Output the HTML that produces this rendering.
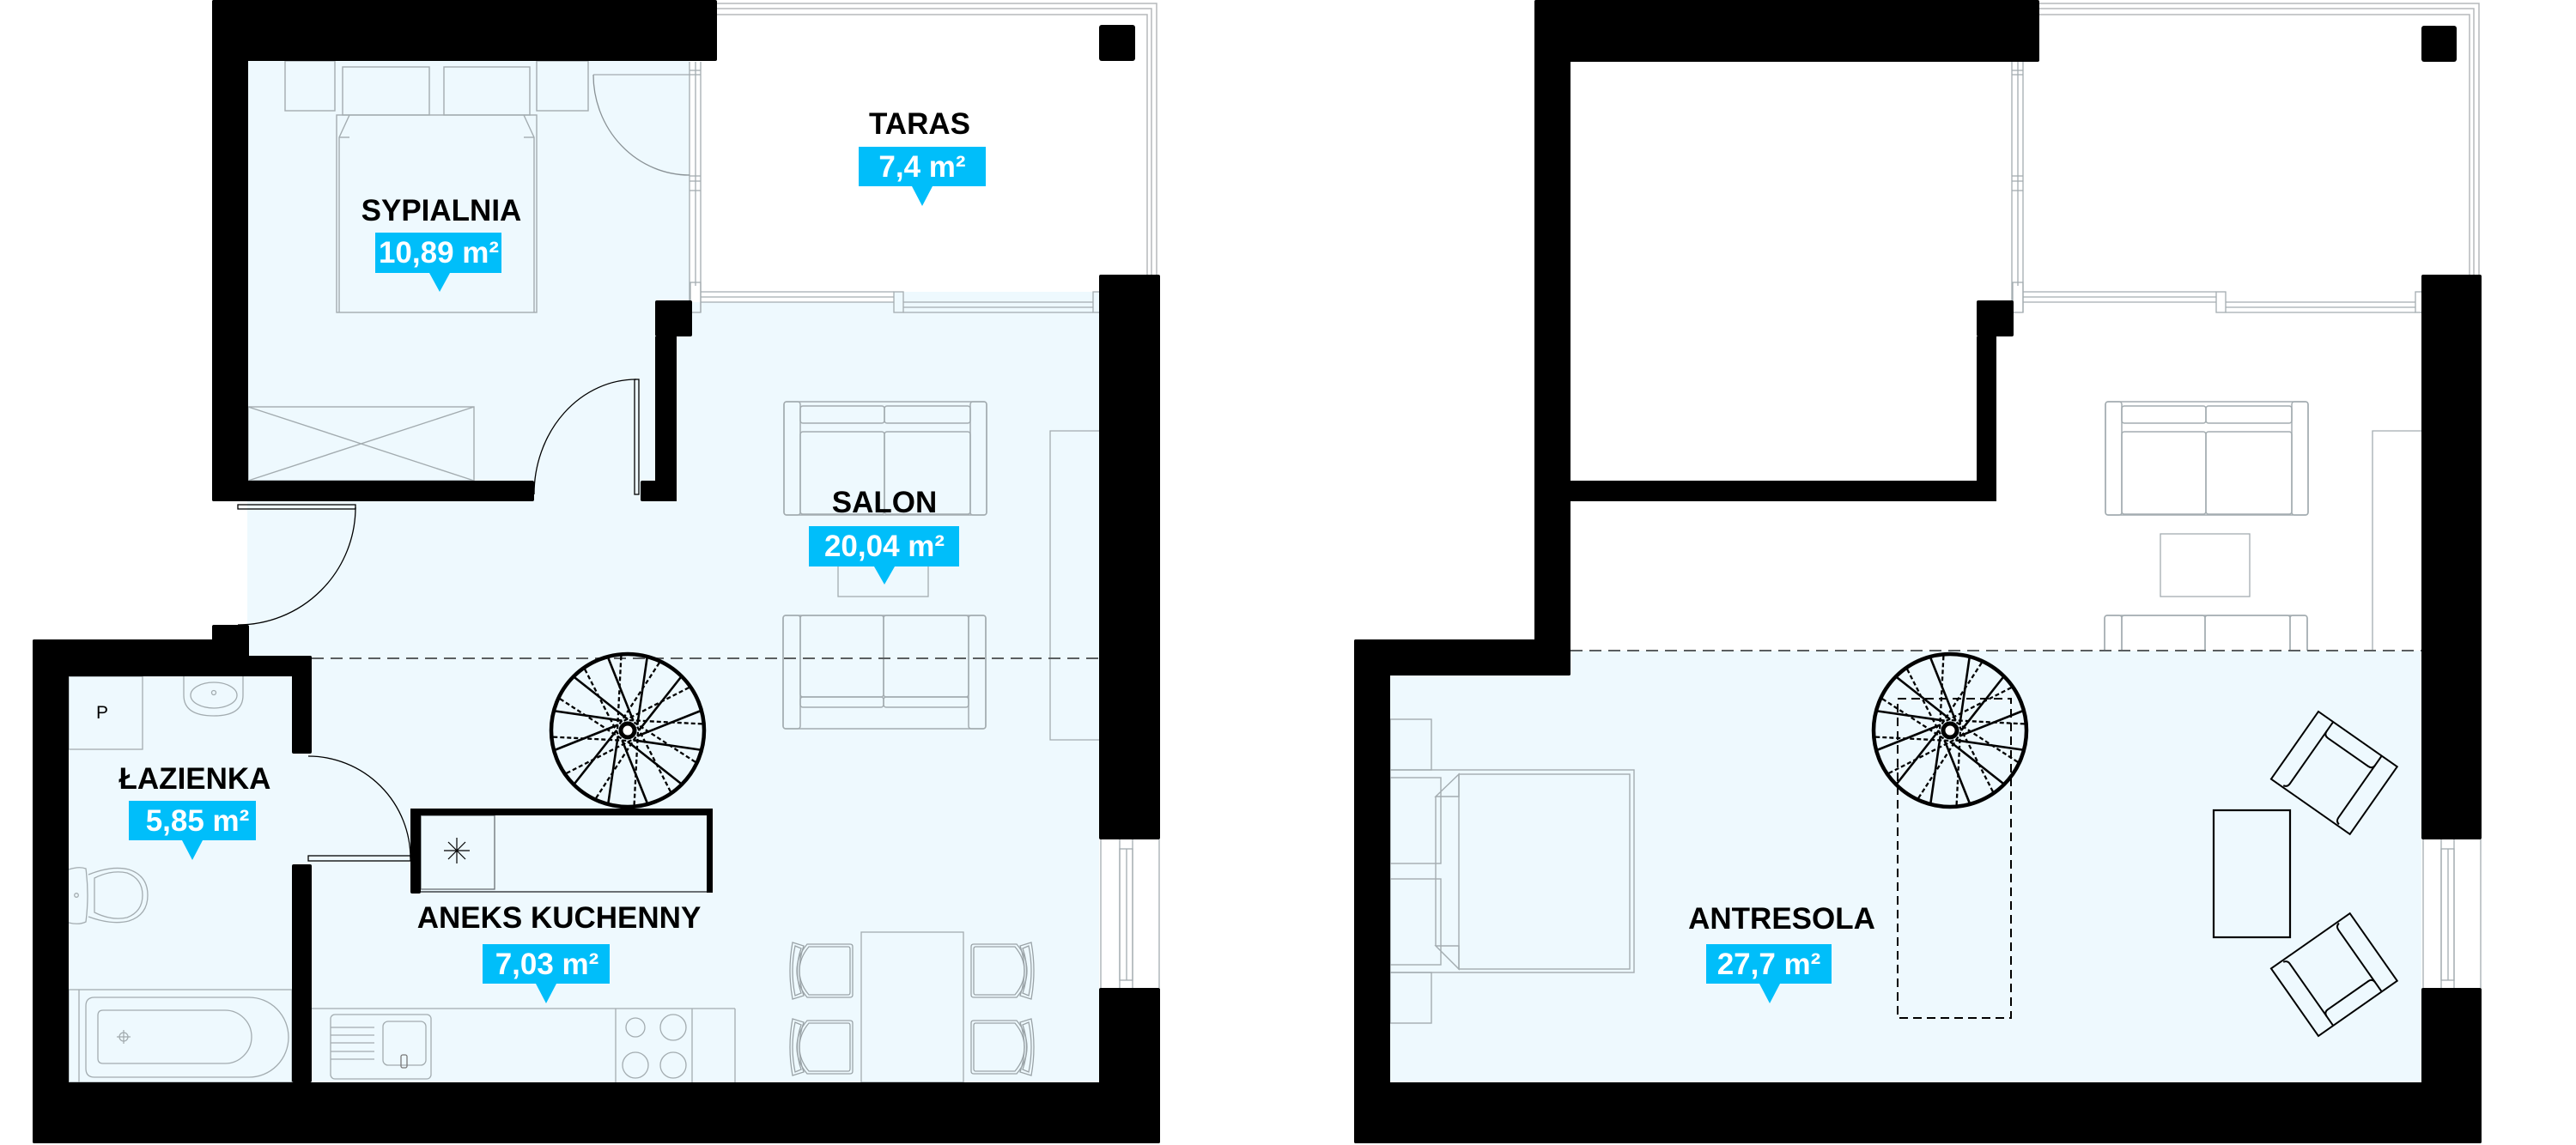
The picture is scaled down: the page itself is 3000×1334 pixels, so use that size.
<!DOCTYPE html>
<html>
<head>
<meta charset="utf-8">
<style>
html,body{margin:0;padding:0;background:#fff;overflow:hidden;}
svg{display:block;}
.lbl{font-family:"Liberation Sans",Arial,sans-serif;font-weight:bold;font-size:35px;fill:#000;}
.bt{font-family:"Liberation Sans",Arial,sans-serif;font-weight:bold;font-size:35px;fill:#fff;}
</style>
</head>
<body>
<svg width="3000" height="1334" viewBox="0 0 3000 1334" xmlns="http://www.w3.org/2000/svg">
<defs>
  <g id="stair">
    <circle cx="0" cy="0" r="89" fill="none" stroke="#000" stroke-width="4.5"/>
    <g stroke="#000" stroke-width="2.6" fill="none">
      <line x1="-22.5" y1="-84" x2="6.5" y2="-11.3"/>
      <line x1="22.5" y1="-84" x2="11.3" y2="-6.5"/>
      <line x1="61.5" y1="-61.5" x2="13" y2="0"/>
      <line x1="84" y1="-22.5" x2="11.3" y2="6.5"/>
      <line x1="84" y1="22.5" x2="6.5" y2="11.3"/>
      <line x1="61.5" y1="61.5" x2="0" y2="13"/>
      <line x1="22.5" y1="84" x2="-6.5" y2="11.3"/>
      <line x1="-22.5" y1="84" x2="-11.3" y2="6.5"/>
      <line x1="-61.5" y1="61.5" x2="-13" y2="0"/>
      <line x1="-84" y1="22.5" x2="-11.3" y2="-6.5"/>
      <line x1="-84" y1="-22.5" x2="-6.5" y2="-11.3"/>
      <line x1="-61.5" y1="-61.5" x2="0" y2="-13"/>
    </g>
    <g stroke="#000" stroke-width="2.3" fill="none" stroke-dasharray="5 3">
      <line x1="-7.6" y1="-86.7" x2="-11.95" y2="-1.05"/>
      <line x1="36.8" y1="-78.8" x2="-9.83" y2="-6.88"/>
      <line x1="71.3" y1="-49.9" x2="-5.07" y2="-10.88"/>
      <line x1="86.7" y1="-7.6" x2="1.05" y2="-11.95"/>
      <line x1="78.8" y1="36.8" x2="6.88" y2="-9.83"/>
      <line x1="49.9" y1="71.3" x2="10.88" y2="-5.07"/>
      <line x1="7.6" y1="86.7" x2="11.95" y2="1.05"/>
      <line x1="-36.8" y1="78.8" x2="9.83" y2="6.88"/>
      <line x1="-71.3" y1="49.9" x2="5.07" y2="10.88"/>
      <line x1="-86.7" y1="7.6" x2="-1.05" y2="11.95"/>
      <line x1="-78.8" y1="-36.8" x2="-6.88" y2="9.83"/>
      <line x1="-49.9" y1="-71.3" x2="-10.88" y2="5.07"/>
    </g>
    <circle cx="0" cy="0" r="8" fill="#fff" stroke="#000" stroke-width="5"/>
  </g>
  <g id="sofaTop" fill="none" stroke="#a3acb0" stroke-width="1.5">
    <rect x="0" y="0" width="236" height="132" rx="3"/>
    <rect x="0" y="0" width="19" height="132" rx="3"/>
    <rect x="217" y="0" width="19" height="132" rx="3"/>
    <rect x="19" y="5" width="98" height="20" rx="3"/>
    <rect x="117" y="5" width="100" height="20" rx="3"/>
    <rect x="19" y="35" width="98" height="96" rx="3"/>
    <rect x="117" y="35" width="100" height="96" rx="3"/>
  </g>
  <g id="sofaBot" fill="none" stroke="#a3acb0" stroke-width="1.5">
    <rect x="0" y="0" width="236" height="132" rx="3"/>
    <rect x="0" y="0" width="20" height="132" rx="3"/>
    <rect x="216" y="0" width="20" height="132" rx="3"/>
    <rect x="20" y="0" width="97" height="95" rx="3"/>
    <rect x="117" y="0" width="99" height="95" rx="3"/>
    <rect x="20" y="95" width="97" height="12" rx="3"/>
    <rect x="117" y="95" width="99" height="12" rx="3"/>
  </g>
  <g id="chair" fill="none" stroke="#9aa3a7" stroke-width="1.3">
    <path d="M20,2 H70 Q73,2 73,5 V61 Q73,64 70,64 H20 Q8,50 8,33 Q8,16 20,2 Z"/>
    <path d="M22,5 H68 Q70,5 70,8 V58 Q70,61 68,61 H22 Q11,48 11,33 Q11,18 22,5 Z"/>
    <path d="M3,0 L16,4 Q6,33 16,62 L3,66 Q-3,33 3,0 Z"/>
    <path d="M6,4 L13,7 Q4,33 13,59 L6,62 Q0,33 6,4 Z"/>
  </g>
  <g id="armchair" fill="none" stroke="#000" stroke-width="2">
    <rect x="0" y="0" width="112" height="96"/>
    <path d="M21,0 V88 Q21,93 16,94"/>
    <path d="M90,0 V88 Q90,93 95,94"/>
    <path d="M21,13 Q21,19 27,19 H84 Q90,19 90,13"/>
  </g>
  <clipPath id="clipR"><rect x="1830" y="0" width="1000" height="758"/></clipPath>
</defs>

<!-- ================= LEFT PLAN ================= -->
<!-- fills -->
<g fill="#eef9fe">
  <rect x="289" y="71" width="514" height="489"/>
  <rect x="788" y="352" width="492" height="909"/>
  <rect x="1041" y="340" width="239" height="20"/>
  <rect x="288" y="584" width="992" height="677"/>
  <rect x="289" y="555" width="500" height="35"/>
  <rect x="80" y="787" width="283" height="474"/>
</g>

<!-- terrace railing -->
<g fill="none" stroke="#b5b9bb" stroke-width="1.5">
  <path d="M835,4 H1347 V320"/>
  <path d="M835,10 H1341 V320"/>
  <path d="M835,17 H1336 V320"/>
</g>
<!-- bedroom/terrace window lines -->
<g fill="none" stroke="#a3acb0" stroke-width="1.3">
  <line x1="803" y1="72" x2="803" y2="364"/>
  <line x1="810" y1="72" x2="810" y2="333"/>
  <line x1="816" y1="72" x2="816" y2="364"/>
  <line x1="803" y1="82" x2="816" y2="82"/>
  <line x1="803" y1="87" x2="816" y2="87"/>
  <line x1="803" y1="205" x2="816" y2="205"/>
  <line x1="803" y1="211" x2="816" y2="211"/>
  <line x1="803" y1="222" x2="816" y2="222"/>
  <rect x="804" y="329" width="12" height="35"/>
  <line x1="816" y1="340" x2="1041" y2="340"/>
  <line x1="816" y1="346" x2="1041" y2="346"/>
  <line x1="816" y1="352" x2="1041" y2="352"/>
  <rect x="1041" y="340" width="11" height="24"/>
  <line x1="1052" y1="352" x2="1273" y2="352"/>
  <line x1="1052" y1="358" x2="1273" y2="358"/>
  <line x1="1052" y1="364" x2="1273" y2="364"/>
  <rect x="1273" y="340" width="8" height="24"/>
</g>
<!-- right wall window -->
<g fill="none" stroke="#a3acb0" stroke-width="1.3">
  <line x1="1282" y1="978" x2="1282" y2="1151"/>
  <line x1="1350" y1="978" x2="1350" y2="1151"/>
  <line x1="1304" y1="978" x2="1304" y2="1151"/>
  <line x1="1319" y1="978" x2="1319" y2="1151"/>
  <rect x="1304" y="989" width="15" height="153"/>
  <line x1="1312" y1="989" x2="1312" y2="1142"/>
</g>

<!-- bedroom furniture -->
<g fill="none" stroke="#a3acb0" stroke-width="1.4">
  <rect x="332" y="71" width="58" height="58"/>
  <rect x="625" y="71" width="60" height="58"/>
  <rect x="399" y="78" width="101" height="56"/>
  <rect x="517" y="78" width="100" height="56"/>
  <rect x="392" y="134" width="233" height="230"/>
  <path d="M395,364 V160 L407,134 M622,364 V160 L610,134"/>
  <line x1="395" y1="160" x2="407" y2="160"/>
  <line x1="610" y1="160" x2="622" y2="160"/>
  <rect x="289" y="474" width="263" height="86"/>
  <line x1="289" y1="474" x2="552" y2="560"/>
  <line x1="552" y1="474" x2="289" y2="560"/>
</g>
<!-- doors -->
<g fill="none" stroke="#000" stroke-width="1.3">
  <line x1="691" y1="87" x2="803" y2="87" stroke="#a3acb0"/>
  <path d="M691,87 A112,117 0 0 0 803,204" stroke="#8a9296"/>
  <rect x="739" y="442" width="5" height="134"/>
  <path d="M741,442 A119,134 0 0 0 622,576"/>
  <rect x="277" y="588" width="137" height="5"/>
  <path d="M414,591 A137,137 0 0 1 277,728"/>
  <rect x="359" y="997" width="119" height="6"/>
  <path d="M359,881 A119,119 0 0 1 478,1000"/>
</g>

<!-- bathroom fixtures -->
<g fill="none" stroke="#a3acb0" stroke-width="1.3">
  <rect x="80" y="788" width="86" height="85"/>
  <path d="M214,788 V810 Q214,834 249,834 Q283,834 283,810 V788"/>
  <ellipse cx="249" cy="810" rx="27" ry="15"/>
  <circle cx="249" cy="807" r="2.5"/>
  <path d="M80,1013 Q92,1009 100,1012 Q104,1043 100,1074 Q92,1078 80,1075"/>
  <circle cx="89" cy="1043" r="2.3"/>
  <path d="M103,1019 Q130,1008 150,1013 Q172,1020 172,1043 Q172,1066 150,1073 Q130,1078 103,1068"/>
  <path d="M110,1023 Q130,1013 148,1017 Q166,1024 166,1043 Q166,1062 148,1069 Q130,1073 110,1063 Z"/>
  <rect x="80" y="1153" width="260" height="108"/>
  <line x1="92" y1="1153" x2="92" y2="1261"/>
  <path d="M110,1162 H290 A46,46.5 0 0 1 290,1255 H110 Q100,1255 100,1245 V1172 Q100,1162 110,1162 Z"/>
  <path d="M120,1177 H262 A31,31 0 0 1 262,1239 H120 Q114,1239 114,1233 V1183 Q114,1177 120,1177 Z"/>
  <circle cx="144" cy="1208" r="5"/>
  <line x1="136" y1="1208" x2="152" y2="1208"/>
  <line x1="144" y1="1200" x2="144" y2="1216"/>
</g>
<text x="112" y="837" font-family="Liberation Sans, Arial, sans-serif" font-size="21" fill="#000">P</text>

<!-- kitchen -->
<g fill="none" stroke="#a3acb0" stroke-width="1.3">
  <line x1="362" y1="1175" x2="856" y2="1175"/>
  <line x1="856" y1="1175" x2="856" y2="1261"/>
  <rect x="385" y="1182" width="117" height="75" rx="5"/>
  <line x1="385" y1="1197" x2="436" y2="1197"/>
  <line x1="385" y1="1206" x2="436" y2="1206"/>
  <line x1="385" y1="1215" x2="436" y2="1215"/>
  <line x1="385" y1="1225" x2="436" y2="1225"/>
  <line x1="385" y1="1234" x2="436" y2="1234"/>
  <rect x="446" y="1190" width="50" height="51" rx="6"/>
  <rect x="467" y="1229" width="7" height="15" rx="2" stroke="#777"/>
  <line x1="717" y1="1175" x2="717" y2="1261"/>
  <line x1="806" y1="1175" x2="806" y2="1261"/>
  <circle cx="740" cy="1197" r="11"/>
  <circle cx="784" cy="1197" r="15"/>
  <circle cx="740" cy="1241" r="15"/>
  <circle cx="784" cy="1241" r="15"/>
  <rect x="490" y="950" width="86" height="86" stroke="#6a7074"/>
</g>
<line x1="490" y1="1039" x2="830" y2="1039" stroke="#6a7074" stroke-width="2"/>
<g stroke="#000" stroke-width="1.2">
  <line x1="517" y1="991" x2="547" y2="991"/>
  <line x1="532" y1="976" x2="532" y2="1006"/>
  <line x1="522" y1="981" x2="542" y2="1001"/>
  <line x1="542" y1="981" x2="522" y2="1001"/>
</g>

<!-- dining -->
<rect x="1003" y="1086" width="119" height="175" fill="none" stroke="#a3acb0" stroke-width="1.3"/>
<use href="#chair" transform="translate(920,1098)"/>
<use href="#chair" transform="translate(920,1187)"/>
<use href="#chair" transform="translate(1204,1098) scale(-1,1)"/>
<use href="#chair" transform="translate(1204,1187) scale(-1,1)"/>

<!-- salon furniture -->
<use href="#sofaTop" transform="translate(913,468)"/>
<use href="#sofaBot" transform="translate(912,717)"/>
<rect x="976" y="622" width="105" height="73" fill="none" stroke="#a3acb0" stroke-width="1.3"/>
<path d="M1280,502 H1223 V862 H1280" fill="none" stroke="#a3acb0" stroke-width="1.3"/>

<!-- dashed mezzanine edge -->
<line x1="363" y1="767" x2="1280" y2="767" stroke="#5a5e60" stroke-width="2" stroke-dasharray="14 8"/>

<!-- stair -->
<use href="#stair" transform="translate(731,851)"/>

<!-- walls left -->
<g fill="#000">
  <rect x="247" y="0" width="588" height="71" rx="2"/>
  <rect x="247" y="0" width="42" height="584" rx="2"/>
  <rect x="247" y="560" width="375" height="24" rx="2"/>
  <rect x="746" y="560" width="42" height="24" rx="2"/>
  <rect x="763" y="392" width="25" height="192"/>
  <rect x="763" y="350" width="43" height="42" rx="2"/>
  <rect x="1280" y="320" width="71" height="658" rx="2"/>
  <rect x="1280" y="1151" width="71" height="181" rx="2"/>
  <rect x="38" y="1261" width="1313" height="71" rx="2"/>
  <rect x="38" y="745" width="42" height="587" rx="2"/>
  <rect x="38" y="745" width="252" height="43" rx="2"/>
  <rect x="247" y="728" width="43" height="60" rx="2"/>
  <rect x="285" y="764" width="78" height="24" rx="2"/>
  <rect x="340" y="764" width="23" height="114" rx="2"/>
  <rect x="340" y="1007" width="23" height="254" rx="2"/>
  <rect x="1280" y="29" width="42" height="42" rx="3"/>
  <rect x="478" y="942" width="352" height="8"/>
  <rect x="478" y="942" width="12" height="99" rx="2"/>
  <rect x="823" y="942" width="7" height="98"/>
</g>

<!-- labels left -->
<text class="lbl" x="1071" y="156" text-anchor="middle">TARAS</text>
<rect x="1000" y="171" width="148" height="46" fill="#00befa"/>
<polygon points="1062,217 1086,217 1074,240" fill="#00befa"/>
<text class="bt" x="1074" y="206" text-anchor="middle">7,4 m²</text>

<text class="lbl" x="514" y="257" text-anchor="middle">SYPIALNIA</text>
<rect x="437" y="271" width="147" height="47" fill="#00befa"/>
<polygon points="500,318 524,318 512,340" fill="#00befa"/>
<text class="bt" x="511" y="306" text-anchor="middle">10,89 m²</text>

<text class="lbl" x="1030" y="597" text-anchor="middle">SALON</text>
<rect x="942" y="613" width="175" height="47" fill="#00befa"/>
<polygon points="1018,660 1042,660 1030,681" fill="#00befa"/>
<text class="bt" x="1030" y="648" text-anchor="middle">20,04 m²</text>

<text class="lbl" x="227" y="919" text-anchor="middle">ŁAZIENKA</text>
<rect x="150" y="933" width="148" height="46" fill="#00befa"/>
<polygon points="212,979 236,979 224,1002" fill="#00befa"/>
<text class="bt" x="230" y="968" text-anchor="middle">5,85 m²</text>

<text class="lbl" x="651" y="1081" text-anchor="middle">ANEKS KUCHENNY</text>
<rect x="562" y="1100" width="148" height="46" fill="#00befa"/>
<polygon points="624,1146 648,1146 636,1169" fill="#00befa"/>
<text class="bt" x="637" y="1135" text-anchor="middle">7,03 m²</text>

<!-- ================= RIGHT PLAN ================= -->
<g fill="#eef9fe">
  <rect x="1619" y="787" width="1201" height="474"/>
  <rect x="1829" y="758" width="991" height="30"/>
</g>

<!-- terrace railing -->
<g fill="none" stroke="#b5b9bb" stroke-width="1.5">
  <path d="M2375,4 H2887 V320"/>
  <path d="M2375,10 H2881 V320"/>
  <path d="M2375,17 H2876 V320"/>
</g>
<g fill="none" stroke="#a3acb0" stroke-width="1.3">
  <line x1="2343" y1="72" x2="2343" y2="364"/>
  <line x1="2350" y1="72" x2="2350" y2="333"/>
  <line x1="2356" y1="72" x2="2356" y2="364"/>
  <line x1="2343" y1="82" x2="2356" y2="82"/>
  <line x1="2343" y1="87" x2="2356" y2="87"/>
  <line x1="2343" y1="205" x2="2356" y2="205"/>
  <line x1="2343" y1="211" x2="2356" y2="211"/>
  <line x1="2343" y1="222" x2="2356" y2="222"/>
  <rect x="2344" y="329" width="12" height="35"/>
  <line x1="2356" y1="340" x2="2581" y2="340"/>
  <line x1="2356" y1="346" x2="2581" y2="346"/>
  <line x1="2356" y1="352" x2="2581" y2="352"/>
  <rect x="2581" y="340" width="11" height="24"/>
  <line x1="2592" y1="352" x2="2813" y2="352"/>
  <line x1="2592" y1="358" x2="2813" y2="358"/>
  <line x1="2592" y1="364" x2="2813" y2="364"/>
  <rect x="2813" y="340" width="8" height="24"/>
</g>
<g fill="none" stroke="#a3acb0" stroke-width="1.3">
  <line x1="2822" y1="978" x2="2822" y2="1151"/>
  <line x1="2889" y1="978" x2="2889" y2="1151"/>
  <line x1="2843" y1="978" x2="2843" y2="1151"/>
  <line x1="2858" y1="978" x2="2858" y2="1151"/>
  <rect x="2843" y="989" width="15" height="153"/>
  <line x1="2851" y1="989" x2="2851" y2="1142"/>
</g>

<!-- right salon furniture (upper level view) -->
<use href="#sofaTop" transform="translate(2452,468)"/>
<g clip-path="url(#clipR)">
  <use href="#sofaBot" transform="translate(2451,717)"/>
  <path d="M2820,502 H2763 V862" fill="none" stroke="#a3acb0" stroke-width="1.3"/>
</g>
<rect x="2516" y="622" width="104" height="73" fill="none" stroke="#a3acb0" stroke-width="1.3"/>

<!-- bed -->
<g fill="none" stroke="#a3acb0" stroke-width="1.4">
  <rect x="1619" y="838" width="48" height="59"/>
  <rect x="1619" y="1133" width="48" height="59"/>
  <rect x="1619" y="897" width="284" height="236"/>
  <rect x="1699" y="902" width="199" height="227"/>
  <rect x="1619" y="906" width="59" height="100"/>
  <rect x="1619" y="1024" width="59" height="100"/>
  <line x1="1672" y1="928" x2="1672" y2="1102"/>
  <path d="M1672,928 L1699,902 V928 Z"/>
  <path d="M1672,1102 L1699,1129 V1102 Z"/>
</g>

<!-- dashed stair well rect -->
<rect x="2210" y="814" width="132" height="372" fill="none" stroke="#000" stroke-width="2" stroke-dasharray="10 6"/>

<!-- table & armchairs -->
<rect x="2578" y="944" width="89" height="148" fill="none" stroke="#000" stroke-width="2.2"/>
<use href="#armchair" transform="translate(2700,829) rotate(35)"/>
<g transform="translate(0,2036) scale(1,-1)">
  <use href="#armchair" transform="translate(2700,829) rotate(35)"/>
</g>

<!-- dashed line -->
<line x1="1829" y1="758" x2="2820" y2="758" stroke="#5a5e60" stroke-width="2" stroke-dasharray="14 8"/>

<!-- stair -->
<use href="#stair" transform="translate(2271,851)"/>

<!-- walls right -->
<g fill="#000">
  <rect x="1787" y="0" width="588" height="72" rx="2"/>
  <rect x="1787" y="0" width="42" height="787" rx="2"/>
  <rect x="1787" y="560" width="538" height="24" rx="2"/>
  <rect x="2302" y="392" width="23" height="192"/>
  <rect x="2302" y="350" width="43" height="42" rx="2"/>
  <rect x="2820" y="320" width="70" height="658" rx="2"/>
  <rect x="2820" y="1151" width="70" height="181" rx="2"/>
  <rect x="1577" y="1261" width="1313" height="71" rx="2"/>
  <rect x="1577" y="745" width="42" height="587" rx="2"/>
  <rect x="1577" y="745" width="252" height="42" rx="2"/>
  <rect x="2820" y="30" width="41" height="42" rx="3"/>
</g>

<text class="lbl" x="2075" y="1082" text-anchor="middle">ANTRESOLA</text>
<rect x="1987" y="1100" width="146" height="46" fill="#00befa"/>
<polygon points="2049,1146 2073,1146 2061,1169" fill="#00befa"/>
<text class="bt" x="2060" y="1135" text-anchor="middle">27,7 m²</text>
</svg>
</body>
</html>
